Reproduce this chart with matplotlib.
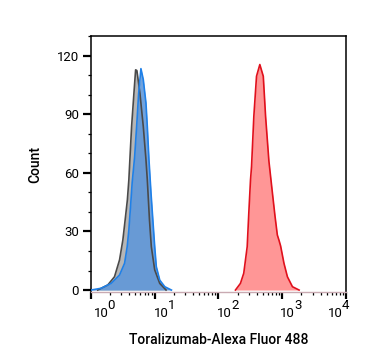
import numpy as np
import matplotlib
matplotlib.use("Agg")
import matplotlib.pyplot as plt
from matplotlib.ticker import FixedLocator, MultipleLocator

plt.rcParams['font.family'] = ['Roboto', 'DejaVu Sans']

# log10 of fluorescence, count
gray_log = [0.110, 0.268, 0.373, 0.452, 0.504, 0.540, 0.575, 0.598, 0.614, 0.641,
            0.677, 0.704, 0.724, 0.772, 0.824, 0.866, 0.887, 0.921, 0.950, 1.003,
            1.082, 1.181]
gray_count = [0, 2.6, 6.8, 15.4, 25.6, 35.9, 46.2, 56.4, 66.7, 83.7,
              100.5, 112.7, 112.3, 100.5, 83.7, 66.7, 56.4, 35.9, 22.2, 10.3,
              3.4, 0]

blue_log = [0.005, 0.162, 0.320, 0.452, 0.531, 0.572, 0.598, 0.625, 0.650, 0.688,
            0.720, 0.751, 0.787, 0.824, 0.866, 0.887, 0.913, 0.945, 0.981, 1.003,
            1.028, 1.082, 1.161, 1.265]
blue_count = [0, 0.9, 3.4, 7.7, 13.7, 22.2, 30.8, 43.0, 55.0, 68.0,
              83.7, 100.5, 113.3, 107.7, 95.7, 83.7, 66.7, 49.6, 32.5, 22.2,
              12.0, 5.1, 1.7, 0]

red_log = [2.268, 2.346, 2.398, 2.452, 2.477, 2.504, 2.520, 2.556, 2.598, 2.650,
           2.704, 2.740, 2.792, 2.846, 2.887, 2.924, 2.950, 2.976, 3.028, 3.082,
           3.161, 3.265]
red_count = [0, 3.4, 8.6, 22.2, 39.3, 56.4, 63.2, 88.9, 109.4, 115.4,
             109.4, 88.9, 66.0, 50.0, 38.0, 28.2, 25.5, 22.5, 13.7, 6.8,
             1.7, 0]

xtick_vals = [1, 10, 100, 1000, 10000]
xtick_exps = ['0', '1', '2', '3', '4']
ytick_vals = [0, 30, 60, 90, 120]

fig = plt.figure(figsize=(3.67, 3.64), dpi=100)
ax = fig.add_axes([0.2471, 0.1978, 0.6957, 0.7033])

gx = 10 ** np.array(gray_log)
bx = 10 ** np.array(blue_log)
rx = 10 ** np.array(red_log)

ax.fill_between(gx, gray_count, color='#b6b6b6', lw=0, zorder=1)
ax.fill_between(bx, blue_count, color='#5d97da', alpha=0.88, lw=0, zorder=2)
ax.fill_between(rx, red_count, color='#ff9696', lw=0, zorder=2)
ax.plot(gx, gray_count, color='#4a4a4a', lw=1.2, zorder=3)
ax.plot(bx, blue_count, color='#1f80e8', lw=1.2, zorder=4)
ax.plot(rx, red_count, color='#e0101c', lw=1.2, zorder=4)

ax.set_xscale('log')
ax.set_xlim(1, 1e4)
ax.set_ylim(-1, 130)

ax.set_xticks(xtick_vals)
ax.set_xticklabels([])
ax.xaxis.set_minor_locator(FixedLocator([m * 10 ** d for d in range(4) for m in range(2, 10)]))
ax.xaxis.set_minor_formatter(plt.NullFormatter())

# decade labels drawn as "10" plus a raised exponent
shift_px = [3, -1, -1, -2, -18]
for val, e, sh in zip(xtick_vals, xtick_exps, shift_px):
    ax.annotate('10', xy=(val, 0), xycoords=('data', 'axes fraction'),
                xytext=(sh / 1.389, -25 / 1.389), textcoords='offset points',
                ha='left', va='baseline', fontsize=9.5, annotation_clip=False)
    ax.annotate(e, xy=(val, 0), xycoords=('data', 'axes fraction'),
                xytext=((sh + 14) / 1.389, -17 / 1.389), textcoords='offset points',
                ha='left', va='baseline', fontsize=9.5, annotation_clip=False)

ax.set_yticks(ytick_vals)
ax.yaxis.set_minor_locator(MultipleLocator(10))

ax.tick_params(axis='x', which='major', length=5, width=1.6)
ax.tick_params(axis='x', which='minor', length=2.5, width=0.9)
ax.tick_params(axis='y', which='major', length=5.5, width=1.6, pad=3, labelsize=9.5)
ax.tick_params(axis='y', which='minor', length=2.5, width=0.9)

for s in ['left', 'top', 'right']:
    ax.spines[s].set_linewidth(1.1)
ax.spines['bottom'].set_color('#c9aab2')
ax.spines['bottom'].set_linewidth(1.0)

ax.set_xlabel('Toralizumab-Alexa Fluor 488', fontsize=10, fontweight='medium', labelpad=21)
ax.set_ylabel('Count', fontsize=10, fontweight='medium', labelpad=10)

fig.savefig('out.png', dpi=100)
